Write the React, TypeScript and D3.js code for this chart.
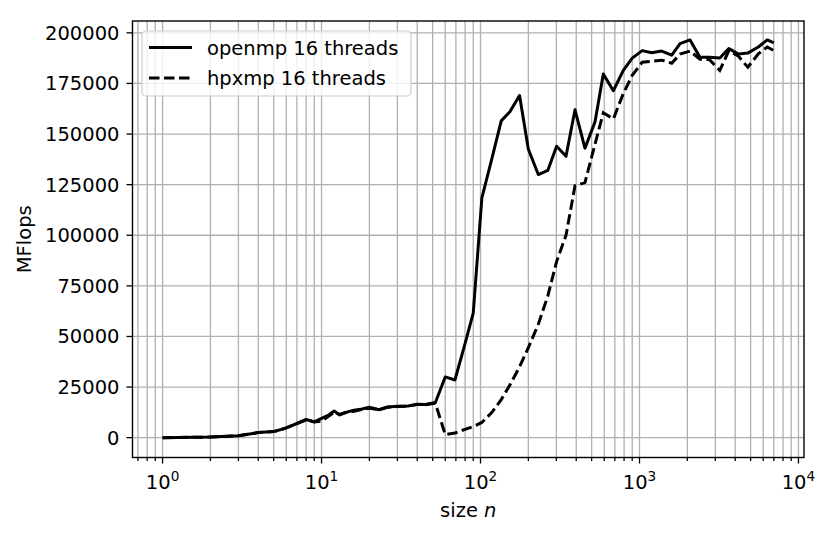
import React from "react";
import * as d3 from "d3";

const sizes = [1, 2, 3, 4, 5, 6, 7, 8, 9, 10, 11, 12, 13, 14, 16, 18, 20, 23, 26, 30, 35, 40, 45, 52,
  60, 69, 79, 90, 102, 118, 135, 153, 176, 200, 231, 265, 301, 345, 393, 454, 525, 592, 685, 791,
  900, 1040, 1194, 1380, 1595, 1800, 2080, 2400, 2750, 3200, 3650, 4200, 4800, 5590, 6360, 7000];

const openmp = [0, 300, 900, 2500, 3000, 4800, 7000, 9000, 7800, 9500, 11000, 13200, 11200, 12300, 13600, 14200, 15000, 13800, 15200, 15500, 15600, 16500, 16400, 17400,
  30000, 28500, 45000, 61500, 118500, 138000, 156500, 161000, 169000, 142500, 130000, 132000, 144000, 139000, 162000, 143000, 156000, 179700, 171400, 181500,
  187500, 191200, 190200, 191000, 189000, 194700, 196500, 188000, 188000, 187600, 192200, 189500, 190000, 193000, 196500, 195000];

const hpxmp = [0, 300, 900, 2500, 3000, 4800, 7000, 8800, 7800, 8200, 10500, 12500, 11500, 12300, 13000, 14000, 14500, 13800, 15000, 15400, 15600, 16400, 16300, 17000,
  1500, 2300, 4000, 5500, 7500, 12500, 18800, 26000, 35000, 44500, 56000, 70000, 87000, 100000, 124500, 126000, 145000, 160500, 157500, 170000,
  179000, 185500, 186000, 186500, 185000, 189500, 191000, 187000, 186800, 181400, 191200, 188400, 183000, 189600, 193000, 191200];

const yTicks = [0, 25000, 50000, 75000, 100000, 125000, 150000, 175000, 200000];
const xDecades = [0, 1, 2, 3, 4];
const seriesNames = ["openmp 16 threads", "hpxmp 16 threads"];

const W = 831, H = 536;
const L = 132.5, R = 804, T = 21, B = 457.5;
const FONT = "DejaVu Sans, sans-serif";
const FS = 19.5;
const LW = 3;

export default function App() {
  const x = d3.scaleLog().domain([0.647, 10835]).range([L, R]);
  const y = d3.scaleLinear().domain([-9800, 205850]).range([B, T]);

  const minors: number[] = [];
  for (let e = -1; e <= 4; e++) {
    for (let m = 2; m <= 9; m++) {
      const v = m * Math.pow(10, e);
      if (v >= 0.647 && v <= 10835) minors.push(v);
    }
  }
  const majors = xDecades.map((e) => Math.pow(10, e));

  const line = d3.line<number>().x((_, i) => x(sizes[i])).y((d) => y(d));

  return (
    <svg width={W} height={H} style={{ display: "block", position: "absolute", left: 0, top: 0 }} fontFamily={FONT}>
      <rect x={0} y={0} width={W} height={H} fill="#fff" />
      <defs>
        <clipPath id="plot">
          <rect x={L} y={T} width={R - L} height={B - T} />
        </clipPath>
      </defs>
      {/* grid */}
      <g stroke="#b0b0b0" strokeWidth={1.3}>
        {minors.map((v, i) => (
          <line key={"mn" + i} x1={x(v)} x2={x(v)} y1={T} y2={B} />
        ))}
        {majors.map((v, i) => (
          <line key={"mj" + i} x1={x(v)} x2={x(v)} y1={T} y2={B} />
        ))}
        {yTicks.map((v, i) => (
          <line key={"y" + i} x1={L} x2={R} y1={y(v)} y2={y(v)} />
        ))}
      </g>
      {/* lines */}
      <g clipPath="url(#plot)" fill="none" stroke="#000" strokeWidth={LW} strokeLinejoin="round">
        <path d={line(openmp) || ""} />
        <path d={line(hpxmp) || ""} strokeDasharray="10.5,4.5" strokeLinejoin="miter" />
      </g>
      {/* frame */}
      <rect x={L} y={T} width={R - L} height={B - T} fill="none" stroke="#000" strokeWidth={1.4} />
      {/* ticks */}
      <g stroke="#000" strokeWidth={1.3}>
        {yTicks.map((v, i) => (
          <line key={"yt" + i} x1={L - 6} x2={L} y1={y(v)} y2={y(v)} />
        ))}
        {majors.map((v, i) => (
          <line key={"xt" + i} x1={x(v)} x2={x(v)} y1={B} y2={B + 6} />
        ))}
        {minors.map((v, i) => (
          <line key={"xm" + i} x1={x(v)} x2={x(v)} y1={B} y2={B + 3.5} />
        ))}
      </g>
      <g fontSize={FS} fill="#000">
        {yTicks.map((v, i) => (
          <text key={"yl" + i} x={L - 13} y={y(v)} dy="0.36em" textAnchor="end">{v}</text>
        ))}
        {xDecades.map((e, i) => (
          <text key={"xl" + i} x={x(Math.pow(10, e))} y={B + 31} textAnchor="middle">
            10<tspan fontSize={FS * 0.7} dy={-8}>{e}</tspan>
          </text>
        ))}
        <text x={(L + R) / 2} y={517} textAnchor="middle">
          size <tspan fontStyle="italic">n</tspan>
        </text>
        <text transform={`translate(31,${(T + B) / 2}) rotate(-90)`} textAnchor="middle">MFlops</text>
      </g>
      {/* legend */}
      <g>
        <rect x={142} y={31} width={269} height={65} rx={4} fill="#fff" fillOpacity={0.8} stroke="#cccccc" strokeWidth={1.2} />
        <line x1={149} x2={192} y1={47.5} y2={47.5} stroke="#000" strokeWidth={LW} />
        <line x1={149} x2={192} y1={78} y2={78} stroke="#000" strokeWidth={LW} strokeDasharray="10.5,4.5" />
        <text x={207} y={54.5} fontSize={FS}>{seriesNames[0]}</text>
        <text x={207} y={85} fontSize={FS}>{seriesNames[1]}</text>
      </g>
    </svg>
  );
}
